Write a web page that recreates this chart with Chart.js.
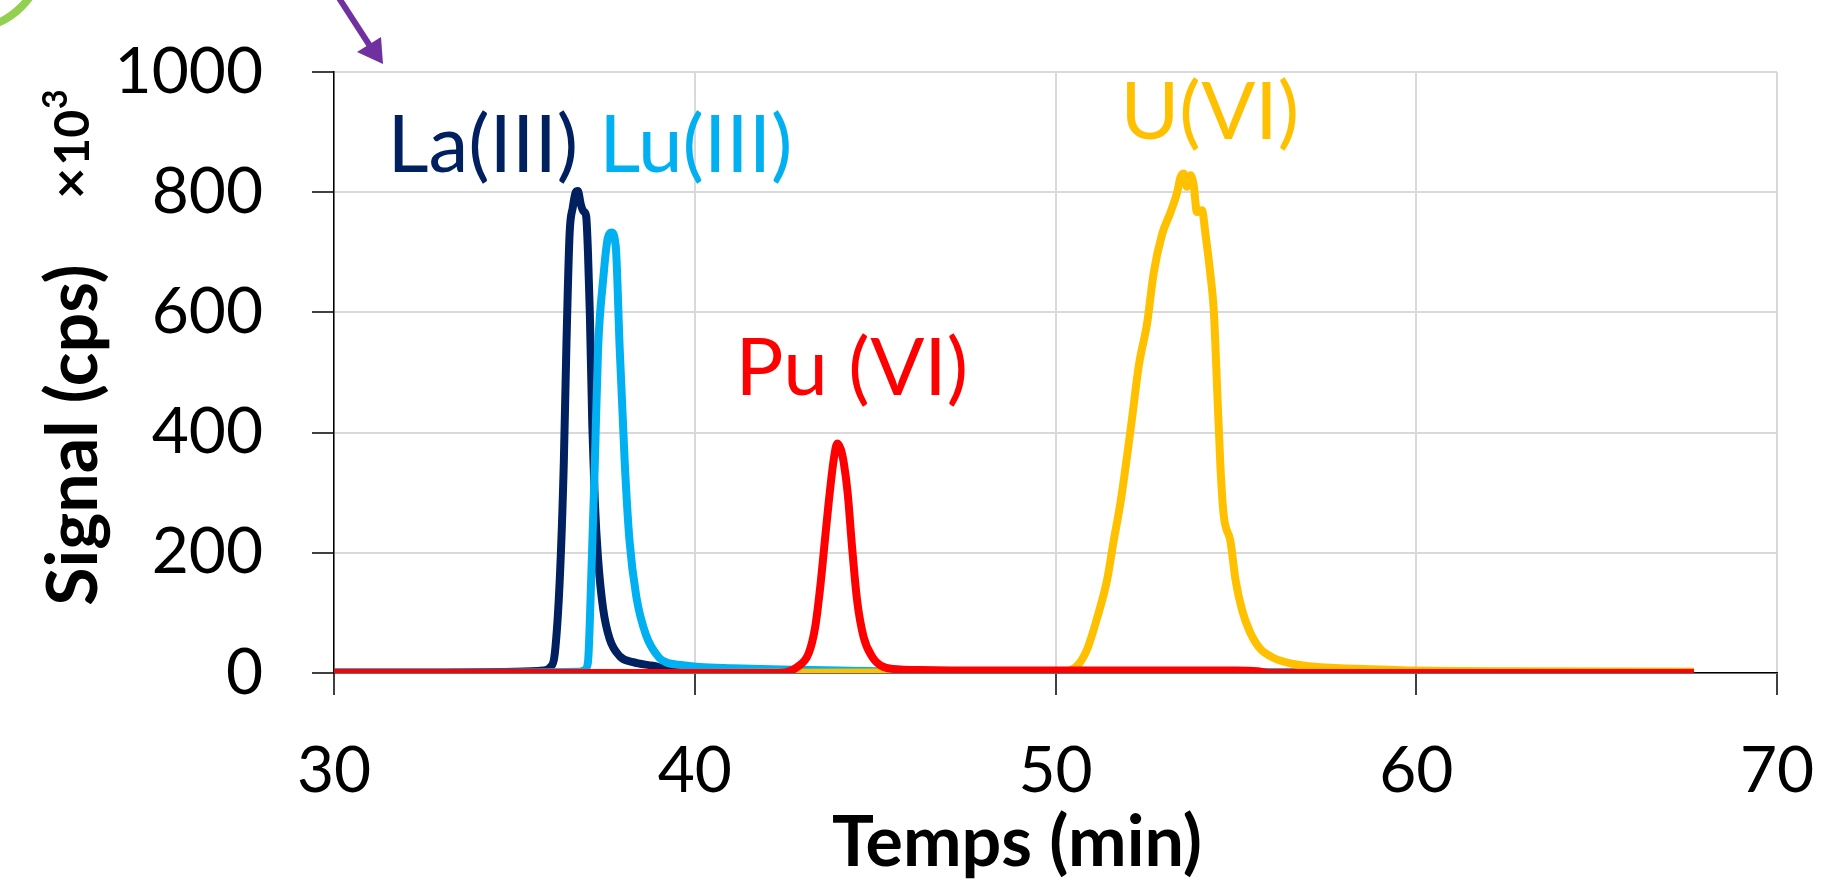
<!DOCTYPE html>
<html>
<head>
<meta charset="utf-8">
<script src="https://cdn.jsdelivr.net/npm/chart.js@4"></script>
<style>
  html, body { margin: 0; padding: 0; background: #ffffff; }
  #wrap { position: relative; width: 1823px; height: 883px; }
</style>
</head>
<body>
<div id="wrap"><canvas id="c"></canvas></div>
<script>
// ---------- DATA ----------
const seriesNames = ['Pu (VI)', 'U(VI)', 'Lu(III)', 'La(III)'];

// Pu(VI) - red
const puTime = [30, 35, 40, 42.2, 42.57, 42.84, 43.16, 43.34, 43.48, 43.59, 43.71, 43.85, 43.95, 44.05, 44.13, 44.24, 44.36, 44.50, 44.68, 44.92, 45.24, 45.70, 46.25, 48, 50, 52, 55, 55.6, 55.9, 58, 62, 67.7];
const puSignal = [0, 0, 0, 0, 2, 10, 33, 77, 144, 210, 282, 354, 382, 372, 350, 299, 210, 121, 60, 27, 10, 6, 5, 4, 4, 4, 4, 3, 0, 0, 0, 0];

// U(VI) - yellow
const uTime = [30, 40, 45, 49.5, 50.14, 50.6, 50.88, 51.15, 51.43, 51.61, 51.80, 51.98, 52.12, 52.31, 52.54, 52.72, 52.95, 53.19, 53.37, 53.46, 53.55, 53.64, 53.74, 53.83, 53.92, 54.06, 54.16, 54.29, 54.39, 54.48, 54.57, 54.66, 54.85, 54.99, 55.17, 55.40, 55.68, 56.05, 56.60, 57.25, 57.9, 59.1, 60, 63, 67.7];
const uSignal = [0, 0, 1, 1, 2, 12, 40, 91, 155, 219, 283, 359, 423, 512, 582, 665, 729, 767, 799, 824, 831, 809, 828, 812, 767, 770, 729, 665, 601, 474, 346, 264, 219, 155, 105, 67, 40, 25, 15, 10, 8, 6, 4, 3, 2];

// Lu(III) - light blue
const luTime = [30, 35, 36.8, 36.95, 37.04, 37.13, 37.23, 37.32, 37.46, 37.59, 37.69, 37.81, 37.92, 38.06, 38.19, 38.38, 38.65, 39.02, 39.2, 39.67, 40.13, 41.05, 42.43, 44, 46, 50, 55, 60, 67.7];
const luSignal = [1, 1, 2, 5, 18, 158, 349, 539, 654, 724, 733, 710, 539, 349, 221, 127, 63, 25, 18, 13, 10, 8, 6, 4, 2, 1, 1, 1, 1];

// La(III) - dark blue
const laTime = [30, 33, 35, 35.8, 36.0, 36.12, 36.26, 36.37, 36.44, 36.53, 36.62, 36.70, 36.76, 36.84, 36.92, 36.99, 37.04, 37.09, 37.16, 37.23, 37.32, 37.46, 37.64, 37.92, 38.29, 38.84, 39.21, 39.6, 40.5, 42, 45, 50, 55, 60, 67.7];
const laSignal = [1, 1, 2, 4, 10, 32, 158, 349, 539, 730, 775, 800, 802, 780, 768, 760, 700, 602, 413, 285, 190, 107, 57, 28, 18, 12, 7, 4, 3, 2, 1, 1, 1, 1, 1];

// tick settings
const xTicks = [30, 40, 50, 60, 70];
const yTicks = [0, 200, 400, 600, 800, 1000];

// in-plot peak labels (data coordinates of text baseline start)
const peakLabels = ['La(III)', 'Lu(III)', 'Pu (VI)', 'U(VI)'];
const peakLabelX = [31.48, 37.35, 41.13, 51.8];
const peakLabelY = [834, 834, 463, 888];
const peakLabelColors = ['#002060', '#00B0F0', '#FF0000', '#FFC000'];

// ---------- CHART ----------
const colors = ['#FF0000', '#FFC000', '#00B0F0', '#002060'];
const times = [puTime, uTime, luTime, laTime];
const signals = [puSignal, uSignal, luSignal, laSignal];

const datasets = seriesNames.map((n, i) => ({
  label: n,
  data: times[i].map((t, k) => ({ x: t, y: signals[i][k] })),
  borderColor: colors[i],
  backgroundColor: colors[i],
  borderWidth: 8,
  pointRadius: 0,
  cubicInterpolationMode: 'monotone',
  fill: false
}));

const decor = {
  id: 'decor',
  afterDatasetsDraw(chart) {
    const { ctx, scales: { x, y } } = chart;
    ctx.save();
    ctx.textAlign = 'left';
    ctx.textBaseline = 'alphabetic';
    ctx.font = '80px Lato';
    peakLabels.forEach((t, i) => {
      ctx.fillStyle = peakLabelColors[i];
      ctx.fillText(t, x.getPixelForValue(peakLabelX[i]), y.getPixelForValue(peakLabelY[i]));
    });
    ctx.restore();
  },
  afterDraw(chart) {
    const { ctx } = chart;
    ctx.save();
    // x title
    ctx.fillStyle = '#000';
    ctx.font = 'bold 70px Lato';
    ctx.textAlign = 'center';
    ctx.textBaseline = 'alphabetic';
    ctx.fillText('Temps (min)', 1017, 866);
    // y title
    ctx.save();
    ctx.translate(97, 435);
    ctx.rotate(-Math.PI / 2);
    ctx.fillText('Signal (cps)', 0, 0);
    ctx.restore();
    // multiplier  ×10^3
    ctx.save();
    ctx.translate(89, 199);
    ctx.rotate(-Math.PI / 2);
    ctx.textAlign = 'left';
    let px = 0;
    ctx.font = 'bold 54px Lato';
    ctx.fillText('×', px, 0);
    px += ctx.measureText('×').width + 2;
    ctx.font = 'bold 48px Lato';
    ctx.fillText('10', px, 0);
    px += ctx.measureText('10').width + 1;
    ctx.font = 'bold 34px Lato';
    ctx.fillText('3', px, -22);
    ctx.restore();
    // green arc (slide decoration)
    ctx.strokeStyle = '#92D050';
    ctx.lineWidth = 8;
    ctx.beginPath();
    ctx.arc(-35, -50, 80, 0, Math.PI / 2);
    ctx.stroke();
    // purple arrow (slide decoration)
    ctx.strokeStyle = '#7030A0';
    ctx.fillStyle = '#7030A0';
    ctx.lineWidth = 6;
    ctx.beginPath();
    ctx.moveTo(337, -5);
    ctx.lineTo(370, 46);
    ctx.stroke();
    ctx.beginPath();
    ctx.moveTo(383, 64);
    ctx.lineTo(357, 52);
    ctx.lineTo(381, 37);
    ctx.closePath();
    ctx.fill();
    ctx.restore();
  }
};

function zeroPad(s) { s.paddingTop = 0; s.paddingBottom = 0; s.paddingLeft = 0; s.paddingRight = 0; }

new Chart(document.getElementById('c'), {
  type: 'line',
  data: { datasets },
  plugins: [decor],
  options: {
    responsive: true,
    maintainAspectRatio: false,
    animation: false,
    devicePixelRatio: 1,
    layout: { padding: { top: 72, right: 46, left: 0, bottom: 0 } },
    plugins: { legend: { display: false }, tooltip: { enabled: false } },
    scales: {
      x: {
        type: 'linear',
        min: 30, max: 70,
        afterBuildTicks: (s) => { s.ticks = xTicks.map(v => ({ value: v })); },
        afterFit: (s) => { s.height = 210; zeroPad(s); },
        ticks: { font: { family: 'Lato', size: 64 }, color: '#000', padding: 38, callback: (v) => String(v) },
        grid: { color: '#d9d9d9', lineWidth: 2, tickColor: '#000', tickLength: 22, tickWidth: 1.5 },
        border: { display: true, color: '#000', width: 1.5 }
      },
      y: {
        min: 0, max: 1000,
        afterBuildTicks: (s) => { s.ticks = yTicks.map(v => ({ value: v })); },
        afterFit: (s) => { s.width = 334; zeroPad(s); },
        ticks: { font: { family: 'Lato', size: 64 }, color: '#000', padding: 49, callback: (v) => String(v) },
        grid: { color: '#d9d9d9', lineWidth: 2, tickColor: '#000', tickLength: 22, tickWidth: 1.5 },
        border: { display: true, color: '#000', width: 1.5 }
      }
    }
  }
});
</script>
</body>
</html>
